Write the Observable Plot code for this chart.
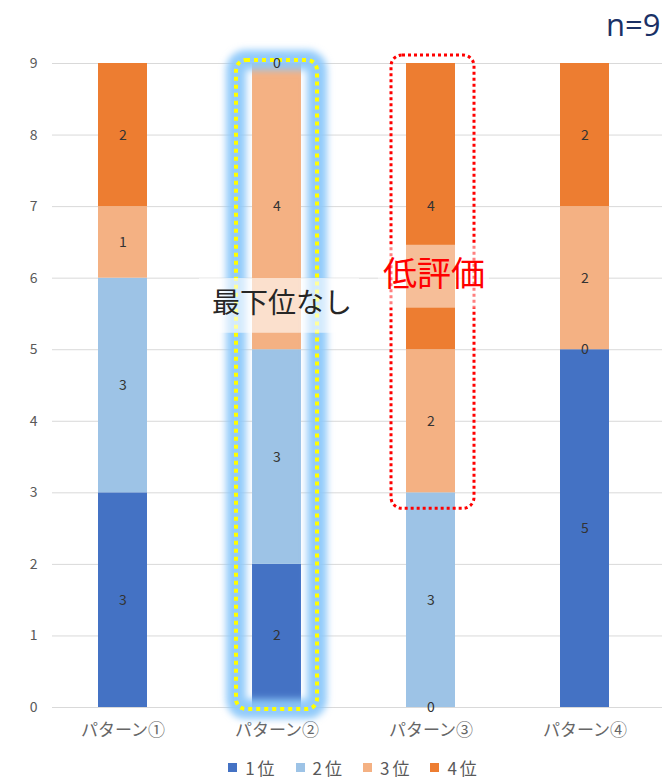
<!DOCTYPE html>
<html>
<head>
<meta charset="utf-8">
<script src="https://cdn.jsdelivr.net/npm/d3@7"></script>
<script src="https://cdn.jsdelivr.net/npm/@observablehq/plot@0.6"></script>
<style>
  html, body { margin: 0; padding: 0; background: #fff; }
  body { width: 662px; height: 782px; overflow: hidden; font-family: "Noto Sans CJK JP", "Noto Sans", sans-serif; }
  #legend { display: flex; justify-content: center; align-items: center; height: 30px; padding-left: 46px; color: #595959; font-size: 17px; }
  .item { display: flex; align-items: center; margin: 0 9px; }
  .sw { width: 9px; height: 9px; margin-right: 8px; }
  .item span { letter-spacing: 3px; }
</style>
</head>
<body>
<div id="chart"></div>
<div id="legend"></div>
<script>
// ---- data ----
const patterns = ["パターン①", "パターン②", "パターン③", "パターン④"];
const ranks = ["1位", "2位", "3位", "4位"];
const rank1 = [3, 2, 0, 5];
const rank2 = [3, 3, 3, 0];
const rank3 = [1, 4, 2, 2];
const rank4 = [2, 0, 4, 2];
const colors = ["#4472C4", "#9DC3E6", "#F4B183", "#ED7D31"];
const yTicks = [0, 1, 2, 3, 4, 5, 6, 7, 8, 9];
const sampleLabel = ["n=9"];
const noLastLabel = ["最下位なし"];
const lowLabel = ["低評価"];

const series = [rank1, rank2, rank3, rank4];
const table = [];
ranks.forEach((r, i) => patterns.forEach((p, j) => table.push({pattern: p, rank: r, value: series[i][j]})));

const FONT = '"Noto Sans CJK JP", "Noto Sans", sans-serif';

const highlight = [{pattern: patterns[1], y1: 0, y2: 9}];
const lowBox = [{pattern: patterns[2], y1: 3, y2: 9}];
const noLastBg = [{pattern: patterns[1], y1: 5.23, y2: 5.995}];
const noLastPos = [{pattern: patterns[1], y: 5.645, text: noLastLabel[0]}];
const lowBg = [{pattern: patterns[2], y1: 5.58, y2: 6.46}];
const lowPos = [{pattern: patterns[2], y: 6.04, text: lowLabel[0]}];

const chart = Plot.plot({
  width: 662,
  height: 752,
  marginTop: 63,
  marginBottom: 45,
  marginLeft: 52,
  marginRight: 0,
  style: {fontFamily: FONT, fontSize: "13px", color: "#595959", background: "#fff"},
  x: {domain: patterns, range: [45, 662], paddingInner: 0.68, paddingOuter: 0.34, axis: null},
  y: {domain: [0, 9], axis: null},
  color: {domain: ranks, range: colors},
  marks: [
    Plot.ruleY(yTicks, {stroke: "#d9d9d9", strokeWidth: 1}),
    Plot.axisY(yTicks, {tickSize: 0, tickPadding: 15, fontSize: 14, fill: "#595959", label: null, tickFormat: d => String(d)}),
    Plot.axisX({tickSize: 0, tickPadding: 16, fontSize: 17, fill: "#666", label: null}),
    Plot.barY(table, {x: "pattern", y: "value", fill: "rank"}),
    // glow around pattern 2
    Plot.barY(highlight, {x: "pattern", y1: "y1", y2: "y2", insetLeft: -16, insetRight: -16, insetTop: -3, insetBottom: -2, rx: 10, fill: "none", stroke: "#8cc8fa", strokeWidth: 20, strokeOpacity: 0.95}),
    Plot.barY(highlight, {x: "pattern", y1: "y1", y2: "y2", insetLeft: -16, insetRight: -16, insetTop: -3, insetBottom: -2, rx: 10, fill: "none", stroke: "#FFFF00", strokeWidth: 4, strokeDasharray: "4,4"}),
    // segment values
    Plot.text(table, Plot.stackY({x: "pattern", y: "value", z: "rank", text: d => String(d.value), fill: "#333", fontSize: 14})),
    // red dotted box around pattern 3
    Plot.barY(lowBox, {x: "pattern", y1: "y1", y2: "y2", insetLeft: -15, insetRight: -19, insetTop: -8, insetBottom: -16, rx: 11, fill: "none", stroke: "#FF0000", strokeWidth: 3, strokeDasharray: "3,3"}),
    // label backgrounds
    Plot.barY(noLastBg, {x: "pattern", y1: "y1", y2: "y2", insetLeft: -53, insetRight: -58, fill: "#fff", fillOpacity: 0.6}),
    Plot.barY(lowBg, {x: "pattern", y1: "y1", y2: "y2", insetLeft: -28, insetRight: -34, fill: "#fff", fillOpacity: 0.5}),
    Plot.text(noLastPos, {x: "pattern", y: "y", text: "text", dx: 5, fontSize: 28, fill: "#262626"}),
    Plot.text(lowPos, {x: "pattern", y: "y", text: "text", dx: 3, fontSize: 34, fill: "#FF0000"}),
    Plot.text(sampleLabel, {text: d => d, frameAnchor: "top-right", dy: -50, dx: -2, fontSize: 31, fill: "#1A3166", fontFamily: '"Open Sans", "Noto Sans", sans-serif'})
  ]
});
document.getElementById("chart").appendChild(chart);

// soft blur for the glow
const svg = d3.select(chart);
const defs = svg.append("defs");
defs.append("filter").attr("id", "blurGlow").attr("filterUnits", "userSpaceOnUse")
  .attr("x", 0).attr("y", 0).attr("width", 662).attr("height", 752)
  .append("feGaussianBlur").attr("stdDeviation", 3.5);
svg.selectAll('[stroke="#8cc8fa"]').attr("filter", "url(#blurGlow)");

// legend
const legend = d3.select("#legend");
ranks.forEach((r, i) => {
  const it = legend.append("div").attr("class", "item");
  it.append("div").attr("class", "sw").style("background", colors[i]);
  it.append("span").text(r);
});
</script>
</body>
</html>
